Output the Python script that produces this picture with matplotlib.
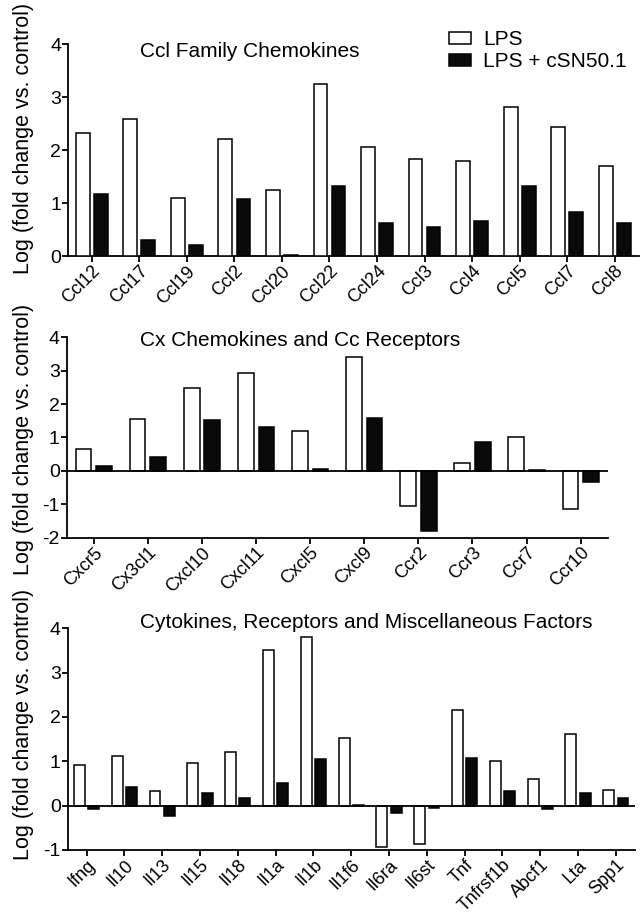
import numpy as np
import matplotlib
matplotlib.use("Agg")
import matplotlib.pyplot as plt
from matplotlib.transforms import ScaledTranslation

plt.rcParams['font.family'] = ['Liberation Sans', 'DejaVu Sans']
plt.rcParams['axes.unicode_minus'] = False

# data: log fold change vs control
ccl_genes = ["Ccl12", "Ccl17", "Ccl19", "Ccl2", "Ccl20", "Ccl22", "Ccl24",
             "Ccl3", "Ccl4", "Ccl5", "Ccl7", "Ccl8"]
ccl_lps = [2.33, 2.58, 1.10, 2.21, 1.24, 3.24, 2.06, 1.83, 1.79, 2.82, 2.43, 1.70]
ccl_csn = [1.17, 0.30, 0.20, 1.07, 0.02, 1.32, 0.62, 0.55, 0.66, 1.32, 0.83, 0.62]

cx_genes = ["Cxcr5", "Cx3cl1", "Cxcl10", "Cxcl11", "Cxcl5", "Cxcl9",
            "Ccr2", "Ccr3", "Ccr7", "Ccr10"]
cx_lps = [0.66, 1.55, 2.49, 2.92, 1.20, 3.40, -1.04, 0.23, 1.00, -1.14]
cx_csn = [0.15, 0.42, 1.51, 1.32, 0.05, 1.58, -1.81, 0.86, 0.03, -0.34]

cyt_genes = ["Ifng", "Il10", "Il13", "Il15", "Il18", "Il1a", "Il1b", "Il1f6",
             "Il6ra", "Il6st", "Tnf", "Tnfrsf1b", "Abcf1", "Lta", "Spp1"]
cyt_lps = [0.92, 1.12, 0.34, 0.97, 1.20, 3.51, 3.80, 1.53, -0.94, -0.86,
           2.15, 1.01, 0.61, 1.62, 0.35]
cyt_csn = [-0.07, 0.41, -0.23, 0.29, 0.18, 0.50, 1.05, 0.01, -0.16, -0.05,
           1.08, 0.32, -0.08, 0.29, 0.18]

titles = ["Ccl Family Chemokines", "Cx Chemokines and Cc Receptors",
          "Cytokines, Receptors and Miscellaneous Factors"]
ylabel = "Log (fold change vs. control)"

fig = plt.figure(figsize=(6.41, 9.18), dpi=100)

# axes rectangles in figure fraction
rects = [[0.1061, 0.7211, 0.890, 0.2309],
         [0.1041, 0.4143, 0.844, 0.2183],
         [0.1056, 0.0741, 0.8846, 0.2415]]
ylims = [(0, 4), (-2, 4), (-1, 4)]
yticks = [[0, 1, 2, 3, 4], [-2, -1, 0, 1, 2, 3, 4], [-1, 0, 1, 2, 3, 4]]
title_pos = [(0.126, 0.939), (0.1355, 0.9566), (0.1275, 1.001)]
ylab_pos = [(-0.0596, 0.557), (-0.0604, 0.49), (-0.0594, 0.568)]

panels = [(ccl_genes, ccl_lps, ccl_csn), (cx_genes, cx_lps, cx_csn),
          (cyt_genes, cyt_lps, cyt_csn)]

w = 0.29
off = 0.19
lw = 1.3
shift = ScaledTranslation(-0.02, 0.0, fig.dpi_scale_trans)

for i, (genes, lps, csn) in enumerate(panels):
    ax = fig.add_axes(rects[i])
    x = np.arange(len(genes))
    ax.bar(x - off, lps, w, color='white', edgecolor='black', linewidth=1.1,
           label='LPS', zorder=3)
    ax.bar(x + off, csn, w, color='#0a0a0a', edgecolor='black', linewidth=1.1,
           label='LPS + cSN50.1', zorder=3)
    ax.set_xlim(-0.5, len(genes) - 0.5)
    ax.set_ylim(*ylims[i])
    ax.set_yticks(yticks[i])
    ax.set_xticks(x)
    ax.set_xticklabels(genes, rotation=45, ha='right', va='top',
                       rotation_mode='anchor', fontsize=13)
    for lab in ax.get_xticklabels():
        lab.set_transform(lab.get_transform() + shift)
    ax.tick_params(axis='y', labelsize=14, direction='out', length=4, width=lw, pad=1)
    ax.tick_params(axis='x', direction='out', length=4.3, width=lw, pad=0.5)
    for s in ['top', 'right']:
        ax.spines[s].set_visible(False)
    for s in ['left', 'bottom']:
        ax.spines[s].set_linewidth(lw)
    if ylims[i][0] < 0:
        ax.axhline(0, color='black', linewidth=lw, zorder=4)
    ax.text(title_pos[i][0], title_pos[i][1], titles[i], transform=ax.transAxes,
            fontsize=15, ha='left', va='baseline')
    ax.set_ylabel(ylabel, fontsize=15.5)
    ax.yaxis.set_label_coords(ylab_pos[i][0], ylab_pos[i][1])
    if i == 0:
        ax.legend(loc='upper left', bbox_to_anchor=(0.667, 1.066), frameon=False,
                  fontsize=15, handlelength=1.1, handleheight=0.5,
                  handletextpad=0.55, labelspacing=0.15, borderpad=0,
                  borderaxespad=0)

fig.savefig("out.png", dpi=100)
